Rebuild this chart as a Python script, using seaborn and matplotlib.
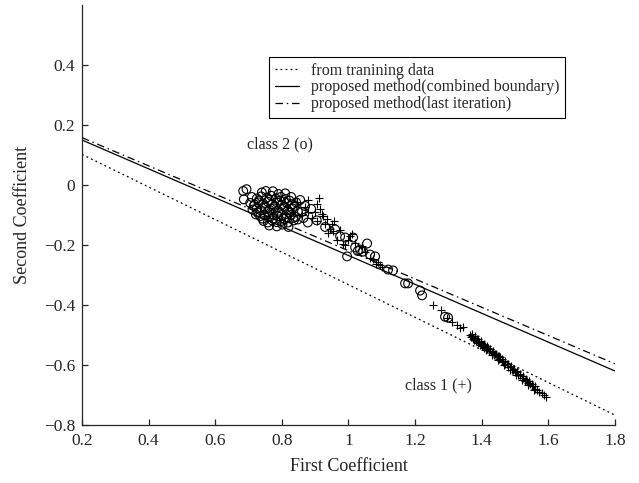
import matplotlib
matplotlib.use("Agg")
import matplotlib.pyplot as plt
import seaborn as sns
import pandas as pd

# decision boundaries, end points at x = 0.2 and x = 1.8
line_x = [0.2, 1.8]
train_y = [0.102, -0.767]
combined_y = [0.150, -0.620]
last_iter_y = [0.158, -0.596]
line_labels = ["from tranining data",
               "proposed method(combined boundary)",
               "proposed method(last iteration)"]

# class 2 (o)
class2_x = [0.684, 0.694, 0.740, 0.752, 0.773, 0.790, 0.810,
            0.686, 0.710, 0.725, 0.738, 0.755, 0.768, 0.782, 0.797, 0.812, 0.828,
            0.705, 0.718, 0.730, 0.744, 0.758, 0.771, 0.785, 0.800, 0.815, 0.830, 0.843,
            0.712, 0.725, 0.738, 0.750, 0.763, 0.776, 0.790, 0.804, 0.818, 0.832, 0.848,
            0.722, 0.735, 0.748, 0.760, 0.773, 0.787, 0.800, 0.814, 0.828, 0.842,
            0.745, 0.758, 0.771, 0.785, 0.798, 0.818, 0.836, 0.848,
            0.762, 0.785, 0.802, 0.820,
            0.716, 0.731, 0.747, 0.762, 0.779, 0.794, 0.808, 0.823, 0.838,
            0.727, 0.742, 0.757, 0.774, 0.789, 0.806, 0.821, 0.834,
            0.878, 0.860, 0.870, 0.855, 0.905, 0.930, 0.888, 0.865,
            0.960, 0.975, 0.990, 1.014, 0.996, 1.056, 1.035, 1.044, 1.065, 1.080,
            1.020, 1.028, 1.119, 1.134, 1.170, 1.179, 1.215, 1.221, 1.290, 1.299]
class2_y = [-0.020, -0.014, -0.025, -0.020, -0.021, -0.030, -0.028,
            -0.048, -0.040, -0.045, -0.038, -0.042, -0.036, -0.045, -0.040, -0.047, -0.040,
            -0.060, -0.065, -0.058, -0.062, -0.056, -0.064, -0.058, -0.066, -0.060, -0.064, -0.058,
            -0.082, -0.078, -0.085, -0.076, -0.083, -0.078, -0.086, -0.080, -0.084, -0.078, -0.088,
            -0.098, -0.104, -0.100, -0.106, -0.098, -0.104, -0.100, -0.108, -0.100, -0.106,
            -0.120, -0.125, -0.118, -0.124, -0.120, -0.125, -0.118, -0.115,
            -0.135, -0.138, -0.132, -0.140,
            -0.070, -0.052, -0.072, -0.050, -0.070, -0.052, -0.072, -0.052, -0.070,
            -0.092, -0.112, -0.090, -0.112, -0.092, -0.113, -0.092, -0.110,
            -0.125, -0.090, -0.070, -0.050, -0.118, -0.140, -0.080, -0.110,
            -0.148, -0.171, -0.175, -0.175, -0.238, -0.195, -0.215, -0.222, -0.232, -0.238,
            -0.208, -0.220, -0.282, -0.285, -0.328, -0.328, -0.352, -0.368, -0.439, -0.442]

# class 1 (+)
class1_x = [0.845, 0.869, 0.906, 0.900, 0.924, 0.930, 0.906, 0.945, 0.966, 0.984,
            1.011, 1.020, 1.074, 1.089, 1.065, 1.100, 0.860, 0.880, 0.890, 0.915,
            0.935, 0.950, 0.940, 0.955, 0.975, 0.990, 1.000, 0.880, 0.835, 1.050,
            1.082, 1.095, 0.912, 0.920, 0.958, 1.005, 1.040,
            1.254, 1.278, 1.296, 1.311, 1.326, 1.335, 1.344,
            1.365, 1.368, 1.372, 1.375, 1.379, 1.382, 1.386, 1.390, 1.393, 1.397,
            1.400, 1.404, 1.408, 1.411, 1.415, 1.419, 1.422, 1.426, 1.430, 1.434,
            1.437, 1.441, 1.445, 1.449, 1.452, 1.456, 1.460, 1.465, 1.470, 1.475,
            1.480, 1.485, 1.490, 1.495, 1.500, 1.505, 1.510, 1.515, 1.520, 1.525,
            1.530, 1.535, 1.540, 1.545, 1.550, 1.555, 1.560, 1.566, 1.572, 1.580,
            1.586, 1.593,
            1.371, 1.380, 1.389, 1.398, 1.407, 1.416, 1.425, 1.434, 1.443, 1.452,
            1.461, 1.470, 1.479, 1.488, 1.497, 1.506, 1.515, 1.524, 1.533, 1.542,
            1.551, 1.560, 1.376, 1.394, 1.412, 1.430, 1.448, 1.466, 1.484, 1.502,
            1.520, 1.538, 1.556]
class1_y = [-0.058, -0.075, -0.065, -0.091, -0.105, -0.131, -0.121, -0.148, -0.182, -0.198,
            -0.165, -0.192, -0.248, -0.258, -0.242, -0.275, -0.100, -0.090, -0.110, -0.080,
            -0.115, -0.130, -0.160, -0.155, -0.150, -0.200, -0.185, -0.050, -0.090, -0.225,
            -0.262, -0.268, -0.045, -0.098, -0.120, -0.170, -0.205,
            -0.399, -0.416, -0.442, -0.456, -0.466, -0.476, -0.472,
            -0.500, -0.508, -0.505, -0.514, -0.509, -0.520, -0.515, -0.527, -0.522, -0.531,
            -0.536, -0.532, -0.542, -0.537, -0.548, -0.543, -0.553, -0.548, -0.561, -0.556,
            -0.566, -0.562, -0.575, -0.570, -0.580, -0.575, -0.588, -0.590, -0.597, -0.598,
            -0.606, -0.607, -0.616, -0.616, -0.625, -0.625, -0.634, -0.634, -0.643, -0.643,
            -0.652, -0.652, -0.661, -0.662, -0.670, -0.671, -0.679, -0.684, -0.690, -0.695,
            -0.701, -0.707,
            -0.496, -0.505, -0.512, -0.521, -0.530, -0.538, -0.546, -0.555, -0.563, -0.571,
            -0.579, -0.588, -0.596, -0.604, -0.612, -0.621, -0.629, -0.637, -0.646, -0.654,
            -0.662, -0.670, -0.518, -0.534, -0.551, -0.567, -0.584, -0.600, -0.616, -0.633,
            -0.649, -0.666, -0.682]

sns.set_style("ticks")
plt.rcParams["font.family"] = ["Liberation Serif", "DejaVu Serif"]
plt.rcParams["axes.linewidth"] = 0.9

fig = plt.figure(figsize=(6.39, 4.83), dpi=100)
ax = fig.add_axes([0.1283, 0.1201, 0.834, 0.8696])

sns.scatterplot(x=class2_x, y=class2_y, marker="o", s=40, facecolor="none",
                edgecolor="black", linewidth=0.8, ax=ax, legend=False, zorder=3)
sns.scatterplot(x=class1_x, y=class1_y, marker="+", s=40, color="black",
                linewidth=0.8, ax=ax, legend=False, zorder=3)

styles = [(0, (1.5, 2.5)), "-", (0, (6, 3, 1.2, 3))]
for ys, ls, lab in zip([train_y, combined_y, last_iter_y], styles, line_labels):
    sns.lineplot(x=line_x, y=ys, color="black", linestyle=ls, linewidth=0.9,
                 label=lab, ax=ax, zorder=2)

ax.text(0.695, 0.135, "class 2 (o)", fontsize=11.5, va="center", ha="left")
ax.text(1.170, -0.667, "class 1 (+)", fontsize=11.5, va="center", ha="left")

ax.set_xlim(0.2, 1.8)
ax.set_ylim(-0.8, 0.6)
ax.set_xticks([0.2, 0.4, 0.6, 0.8, 1.0, 1.2, 1.4, 1.6, 1.8])
ax.set_xticklabels(["0.2", "0.4", "0.6", "0.8", "1", "1.2", "1.4", "1.6", "1.8"])
ax.set_yticks([-0.8, -0.6, -0.4, -0.2, 0.0, 0.2, 0.4])
ax.set_yticklabels(["\u22120.8", "\u22120.6", "\u22120.4", "\u22120.2", "0", "0.2", "0.4"])
ax.tick_params(direction="in", length=4, width=0.9, labelsize=12.5)
ax.tick_params(axis="x", pad=6)
ax.tick_params(axis="y", pad=5)
ax.set_xlabel("First Coefficient", fontsize=13, labelpad=6)
ax.set_ylabel("Second Coefficient", fontsize=13, labelpad=9)
sns.despine(ax=ax)

leg = ax.legend(loc="upper left", bbox_to_anchor=(0.351, 0.876), borderaxespad=0,
                fancybox=False, frameon=True, edgecolor="black", framealpha=1,
                fontsize=11.5, handlelength=1.5, handletextpad=0.8,
                labelspacing=0.05, borderpad=0.35)
leg.get_frame().set_linewidth(0.8)

fig.savefig("out.png", dpi=100)
